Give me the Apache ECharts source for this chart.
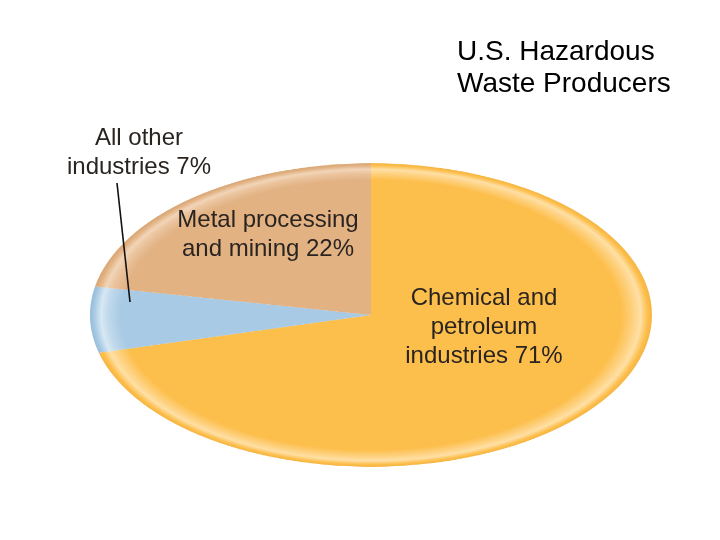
<!DOCTYPE html>
<html>
<head>
<meta charset="utf-8">
<script src="https://cdn.jsdelivr.net/npm/echarts@6/dist/echarts.min.js"></script>
<style>
html,body{margin:0;padding:0;background:#fff;overflow:hidden;width:720px;height:540px;}
#pie{position:absolute;left:0;top:-45px;width:720px;height:720px;transform-origin:371px 360px;transform:scaleY(0.54);}
#txt{position:absolute;left:0;top:0;width:720px;height:540px;}
</style>
</head>
<body>
<div id="pie"></div>
<div id="txt"></div>
<script>
const categories = ['Chemical and petroleum industries', 'All other industries', 'Metal processing and mining'];
const values = [71, 7, 22];
const labelLines = [
  ['Chemical and', 'petroleum', 'industries ' + values[0] + '%'],
  ['All other', 'industries ' + values[1] + '%'],
  ['Metal processing', 'and mining ' + values[2] + '%']
];
const titleLines = ['U.S. Hazardous', 'Waste Producers'];

const palettes = [
  {base:'#FDBF4C', light:'#FED384', hi:'#FFE0A6', edge:'#F6B443'},
  {base:'#A8CAE4', light:'#C0D9EC', hi:'#D8E8F4', edge:'#96BCD9'},
  {base:'#E2B283', light:'#EBC49E', hi:'#F2D5B8', edge:'#D9A674'}
];
function grad(p){
  return {type:'radial', x:371, y:360, r:281, global:true, colorStops:[
    {offset:0, color:p.base},{offset:0.89, color:p.base},{offset:0.935, color:p.light},
    {offset:0.96, color:p.hi},{offset:0.985, color:p.base},{offset:1, color:p.edge}]};
}

const pie = echarts.init(document.getElementById('pie'), null, {renderer:'canvas'});
pie.setOption({
  animation:false,
  series:[{
    type:'pie', center:[371,360], radius:281, startAngle:90, clockwise:true,
    label:{show:false}, labelLine:{show:false}, emphasis:{disabled:true},
    itemStyle:{borderWidth:0},
    data: categories.map((c,i)=>({name:c, value:values[i], itemStyle:{color:grad(palettes[i])}}))
  }]
});

const txt = echarts.init(document.getElementById('txt'));
const font = '"Liberation Sans", Arial, sans-serif';
function block(lines, cx, y0, lh, size){
  return lines.map((t,i)=>({type:'text', style:{text:t, x:cx, y:y0+i*lh, align:'center', verticalAlign:'middle', font:size+'px '+font, fill:'#2a2421'}}));
}
txt.setOption({
  animation:false,
  graphic:[].concat(
    titleLines.map((t,i)=>({type:'text', style:{text:t, x:457, y:52+i*32, align:'left', verticalAlign:'middle', font:'28px '+font, fill:'#000'}})),
    block(labelLines[0], 484, 298, 29, 24),
    block(labelLines[1], 139, 138, 29, 24),
    block(labelLines[2], 268, 220, 29, 24),
    [{type:'line', shape:{x1:117, y1:183, x2:130, y2:302}, style:{stroke:'#111', lineWidth:1.6}}]
  )
});
</script>
</body>
</html>
